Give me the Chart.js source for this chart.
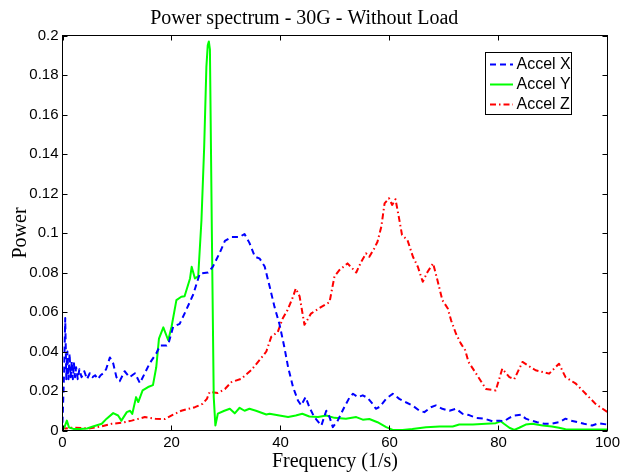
<!DOCTYPE html>
<html>
<head>
<meta charset="utf-8">
<script src="https://cdn.jsdelivr.net/npm/chart.js@4/dist/chart.umd.min.js"></script>
<style>
  html, body { margin: 0; padding: 0; background: #fff; }
  canvas { display: block; }
</style>
</head>
<body>
<canvas id="chart" width="623" height="475"></canvas>
<script>
/******************************************************************************
  POWER SPECTRUM - 30G - WITHOUT LOAD
******************************************************************************/
// DATA
var xTicks = [0, 20, 40, 60, 80, 100]
var yTicks = [0, 0.02, 0.04, 0.06, 0.08, 0.1, 0.12, 0.14, 0.16, 0.18, 0.2]

var freqX = [0, 0.3, 0.5, 0.7, 0.9, 1.1, 1.3, 1.5, 1.7, 1.9, 2.1, 2.3, 2.5, 2.8,
  3.1, 3.5, 4.0, 4.5, 5.0, 5.5, 6.0, 6.5, 7.0, 7.5, 8.0, 8.7, 9.3, 9.9, 10.5,
  11.4, 12.3, 13.3, 14.2, 15.1, 16.0, 17.2, 17.9, 19.1, 19.4, 20.3, 21.5, 22.7,
  24.0, 25.2, 26.7, 27.6, 28.8, 29.8, 31.0, 32.5, 33.4, 34.3, 35.3, 36.2, 37.1,
  38.0, 38.9, 39.8, 40.7, 41.4, 42.3, 43.2, 43.8, 44.6, 45.3, 46.2, 47.5, 48.4,
  49.0, 49.6, 50.5, 51.7, 52.7, 53.3, 54.2, 55.1, 56.0, 56.9, 57.5, 58.2, 59.4,
  60.6, 61.8, 63.0, 64.2, 65.5, 66.4, 67.6, 68.5, 69.7, 71.0, 72.2, 73.4, 74.6,
  75.9, 77.4, 78.9, 80.1, 81.0, 82.0, 82.9, 84.1, 85.0, 86.0, 87.1, 88.4, 89.6,
  91.1, 92.3, 93.3, 94.5, 95.7, 97.2, 98.4, 100]
var accelX = [0.004, 0.03, 0.057, 0.026, 0.04, 0.026, 0.039, 0.027, 0.035, 0.026,
  0.034, 0.027, 0.032, 0.026, 0.031, 0.027, 0.030, 0.026, 0.029, 0.027, 0.028,
  0.026, 0.028, 0.029, 0.031, 0.037, 0.034, 0.027, 0.025, 0.030, 0.027, 0.029,
  0.024, 0.029, 0.034, 0.039, 0.043, 0.043, 0.0435, 0.0525, 0.054, 0.061, 0.069,
  0.0795, 0.080, 0.083, 0.0897, 0.096, 0.098, 0.098, 0.0995, 0.095, 0.088, 0.087,
  0.083, 0.073, 0.0626, 0.054, 0.0423, 0.032, 0.022, 0.0152, 0.0127, 0.0169,
  0.0118, 0.0068, 0.0025, 0.010, 0.0068, 0.0017, 0.005, 0.0118, 0.0169, 0.0186,
  0.0169, 0.0178, 0.0165, 0.0135, 0.011, 0.012, 0.0161, 0.0186, 0.016, 0.0143,
  0.0127, 0.010, 0.0093, 0.0118, 0.0127, 0.011, 0.010, 0.011, 0.0085, 0.0078,
  0.0064, 0.006, 0.0047, 0.005, 0.0047, 0.0064, 0.0076, 0.008, 0.006, 0.005,
  0.0042, 0.0034, 0.0034, 0.0042, 0.006, 0.005, 0.0042, 0.0034, 0.0025, 0.0037,
  0.003]

var freqY = [0, 0.4, 0.8, 1.2, 2.0, 3.2, 4.5, 5.6, 7.2, 8.1, 9.3, 10.2, 10.8, 11.8,
  12.4, 12.8, 13.5, 13.9, 14.7, 15.7, 16.6, 17.2, 17.7, 18.5, 19.4, 20.0, 20.9,
  21.8, 22.4, 23.4, 23.7, 24.3, 24.9, 25.5, 26.0, 26.4, 26.65, 26.85, 27.05,
  27.4, 27.75, 28.05, 28.5, 29.7, 30.7, 31.6, 32.5, 33.4, 34.3, 35.5, 37.4, 38.0,
  39.8, 41.4, 42.8, 44.0, 45.3, 46.9, 48.4, 49.9, 52.0, 53.9, 55.1, 56.3, 57.8,
  59.4, 60.6, 62.4, 64.2, 66.7, 69.2, 71.6, 72.8, 75.3, 77.7, 79.5, 80.4, 81.0,
  82.0, 82.9, 83.8, 85.0, 86.2, 88.1, 89.8, 91.1, 92.3, 94.8, 100]
var accelY = [0, 0.002, 0.005, 0.0015, 0.0008, 0.0008, 0.001, 0.002, 0.0034, 0.006,
  0.0088, 0.0076, 0.005, 0.0093, 0.010, 0.0084, 0.0169, 0.0144, 0.0203, 0.022,
  0.023, 0.032, 0.0465, 0.0522, 0.0457, 0.0524, 0.066, 0.0677, 0.068, 0.077,
  0.0829, 0.077, 0.078, 0.1066, 0.1438, 0.184, 0.195, 0.197, 0.193, 0.1015,
  0.0169, 0.0025, 0.0085, 0.010, 0.011, 0.0087, 0.0115, 0.010, 0.011, 0.010,
  0.0081, 0.0085, 0.0076, 0.0068, 0.0076, 0.0085, 0.0071, 0.0068, 0.0076, 0.0064,
  0.006, 0.0068, 0.0055, 0.0058, 0.0042, 0.0017, 0.0003, 0.0003, 0.0008, 0.0017,
  0.002, 0.002, 0.003, 0.003, 0.0034, 0.0037, 0.0047, 0.0034, 0.0014, 0.0003,
  0.0014, 0.003, 0.0034, 0.0025, 0.002, 0.0014, 0.0006, 0.0005, 0.0005]

var freqZ = [0, 0.5, 2.0, 4.7, 7.0, 9.0, 11.0, 12.7, 15.1, 17.0, 18.8, 20.3, 21.8,
  24.3, 25.7, 26.5, 27.0, 28.5, 29.8, 31.0, 32.8, 34.6, 36.2, 37.4, 38.3, 39.5,
  40.4, 41.3, 42.3, 42.8, 43.5, 44.4, 45.6, 47.5, 49.0, 49.9, 50.8, 52.3, 53.9,
  54.8, 55.7, 56.3, 57.2, 57.8, 58.5, 59.1, 59.9, 60.5, 61.1, 61.7, 62.3, 63.3,
  64.3, 65.2, 66.1, 67.0, 68.0, 68.8, 69.7, 70.7, 71.3, 72.2, 73.1, 73.9, 74.5,
  75.9, 77.7, 79.5, 80.7, 82.0, 82.9, 84.4, 86.8, 89.3, 91.1, 92.3, 94.2, 96.0,
  97.8, 100]
var accelZ = [0.002, 0.001, 0.0015, 0.001, 0.002, 0.0034, 0.004, 0.005, 0.0068,
  0.006, 0.0058, 0.008, 0.010, 0.0118, 0.0135, 0.016, 0.0195, 0.019, 0.021,
  0.0245, 0.0262, 0.0305, 0.0358, 0.040, 0.0474, 0.0499, 0.0567, 0.061, 0.0677,
  0.0719, 0.068, 0.0535, 0.0592, 0.0626, 0.065, 0.078, 0.0812, 0.0846, 0.080,
  0.0854, 0.0897, 0.088, 0.0922, 0.0956, 0.1032, 0.115, 0.1176, 0.1142, 0.1171,
  0.1083, 0.099, 0.0964, 0.088, 0.0829, 0.0753, 0.0804, 0.0846, 0.0761, 0.066,
  0.0618, 0.0558, 0.049, 0.044, 0.0406, 0.0347, 0.0288, 0.021, 0.0203, 0.0313,
  0.027, 0.026, 0.0347, 0.0305, 0.0288, 0.0338, 0.027, 0.0237, 0.0186, 0.0135,
  0.0093]

var labels = ['Accel X', 'Accel Y', 'Accel Z']

// COLORS
var blue = '#0000ff'
var green = '#00ff00'
var red = '#ff0000'
var black = '#000000'

// FONTS
var sans = "'Liberation Sans', Arial, sans-serif"
var serif = "'Liberation Serif', 'Times New Roman', serif"

function points (xs, ys) {
  return xs.map(function (x, i) { return { x: x, y: ys[i] } })
}

// frame with inward ticks + legend box (matlab style)
var matlabFrame = {
  id: 'matlabFrame',
  afterDraw: function (chart) {
    var ctx = chart.ctx
    var a = chart.chartArea
    var xs = chart.scales.x
    var ys = chart.scales.y
    ctx.save()
    ctx.strokeStyle = black
    ctx.lineWidth = 1
    ctx.setLineDash([])
    ctx.strokeRect(a.left, a.top, a.right - a.left, a.bottom - a.top)
    ctx.beginPath()
    xs.ticks.forEach(function (t) {
      var px = Math.round(xs.getPixelForValue(t.value)) + 0.5
      ctx.moveTo(px, a.bottom); ctx.lineTo(px, a.bottom - 5)
      ctx.moveTo(px, a.top); ctx.lineTo(px, a.top + 5)
    })
    ys.ticks.forEach(function (t) {
      var py = Math.round(ys.getPixelForValue(t.value)) + 0.5
      ctx.moveTo(a.left, py); ctx.lineTo(a.left + 5, py)
      ctx.moveTo(a.right, py); ctx.lineTo(a.right - 5, py)
    })
    ctx.stroke()

    // legend
    var bx = 485.5, by = 52.5, bw = 86, bh = 62
    ctx.fillStyle = '#fff'
    ctx.fillRect(bx, by, bw, bh)
    ctx.strokeRect(bx, by, bw, bh)
    ctx.save()
    ctx.beginPath()
    ctx.rect(bx, by, bw, bh)
    ctx.clip()
    ctx.font = '16px ' + sans
    ctx.textBaseline = 'middle'
    chart.data.datasets.forEach(function (ds, i) {
      var cy = 64.5 + i * 20
      ctx.strokeStyle = ds.borderColor
      ctx.lineWidth = ds.borderWidth
      ctx.setLineDash(ds.borderDash || [])
      ctx.beginPath()
      ctx.moveTo(490, cy); ctx.lineTo(513, cy)
      ctx.stroke()
      ctx.setLineDash([])
      ctx.fillStyle = black
      ctx.fillText(ds.label, 516.5, cy)
    })
    ctx.restore()
    ctx.restore()
  }
}

var chart = new Chart(document.getElementById('chart'), {
  type: 'line',
  data: {
    datasets: [
      { label: labels[0], data: points(freqX, accelX), borderColor: blue,
        borderWidth: 2, borderDash: [6, 4] },
      { label: labels[1], data: points(freqY, accelY), borderColor: green,
        borderWidth: 2 },
      { label: labels[2], data: points(freqZ, accelZ), borderColor: red,
        borderWidth: 2, borderDash: [6, 3, 1.5, 3] }
    ]
  },
  options: {
    responsive: false,
    animation: false,
    devicePixelRatio: 1,
    layout: { padding: { left: 0, top: 0, right: 14.5, bottom: 0 } },
    elements: {
      point: { radius: 0 },
      line: { tension: 0, fill: false, borderJoinStyle: 'round' }
    },
    plugins: {
      legend: { display: false },
      tooltip: { enabled: false },
      title: {
        display: true,
        text: 'Power spectrum - 30G - Without Load',
        color: black,
        font: { family: serif, size: 20, weight: 'normal' },
        padding: { top: 6.25, bottom: 5.25 }
      }
    },
    scales: {
      x: {
        type: 'linear',
        min: xTicks[0],
        max: xTicks[xTicks.length - 1],
        afterBuildTicks: function (s) { s.ticks = xTicks.map(function (v) { return { value: v } }) },
        afterFit: function (s) { s.height = 44.5 },
        grid: { display: false, drawTicks: false },
        border: { display: false },
        ticks: { color: black, padding: 3, maxRotation: 0, font: { family: sans, size: 15 } },
        title: {
          display: true,
          text: 'Frequency (1/s)',
          color: black,
          font: { family: serif, size: 20 },
          padding: { top: 0, bottom: 1 }
        }
      },
      y: {
        min: yTicks[0],
        max: yTicks[yTicks.length - 1],
        afterBuildTicks: function (s) { s.ticks = yTicks.map(function (v) { return { value: v } }) },
        afterFit: function (s) { s.width = 62.5 },
        grid: { display: false, drawTicks: false },
        border: { display: false },
        ticks: {
          color: black,
          padding: 4,
          font: { family: sans, size: 15 },
          callback: function (v) { return String(+v.toFixed(2)) }
        },
        title: {
          display: true,
          text: 'Power',
          color: black,
          font: { family: serif, size: 20 },
          padding: { top: 9, bottom: 0 }
        }
      }
    }
  },
  plugins: [matlabFrame]
})
</script>
</body>
</html>
